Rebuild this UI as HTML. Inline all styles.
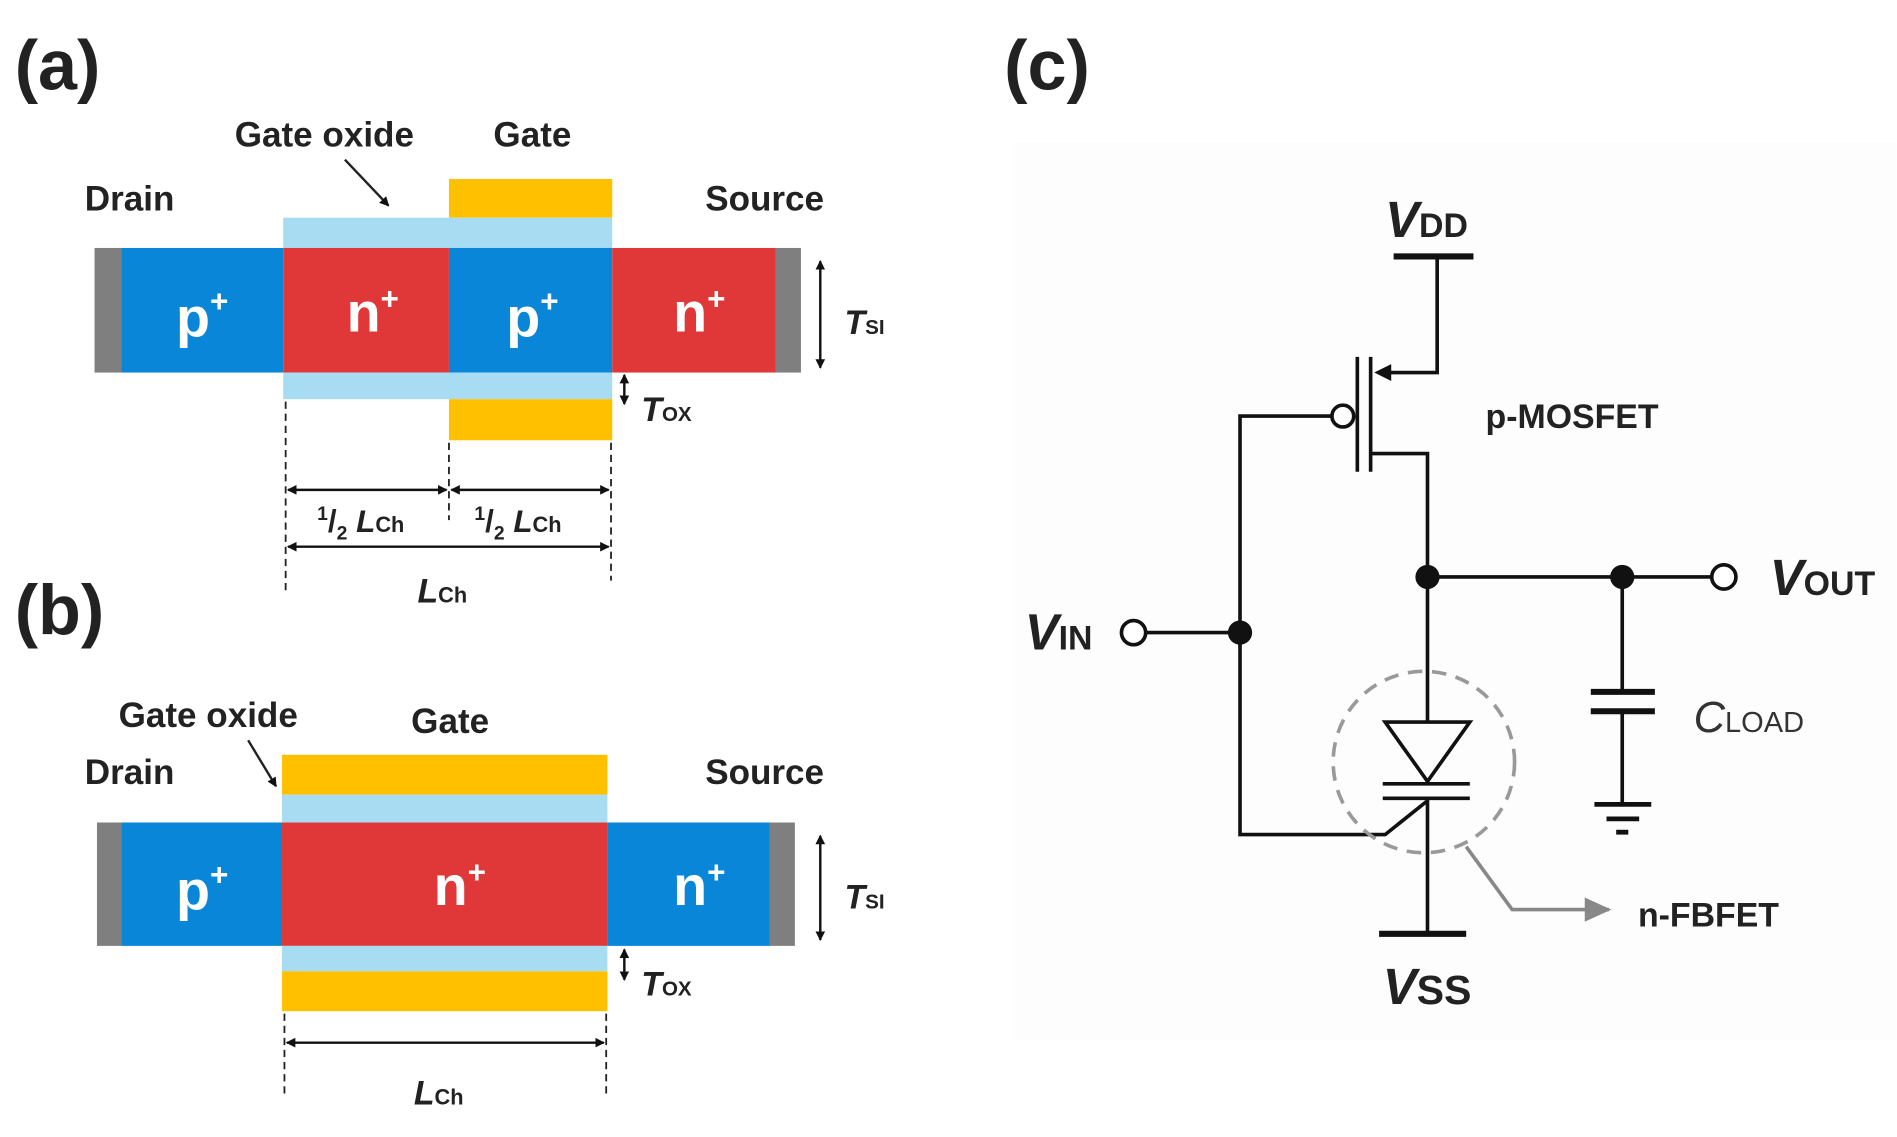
<!DOCTYPE html>
<html><head><meta charset="utf-8"><style>
html,body{margin:0;padding:0;background:#fff}
svg{display:block}
text{font-family:"Liberation Sans",Arial,sans-serif}
</style></head><body>
<svg width="1897" height="1137" viewBox="0 0 1568 940" xmlns="http://www.w3.org/2000/svg">
<defs>
<marker id="ah" markerWidth="8" markerHeight="8" refX="7" refY="4" orient="auto-start-reverse" markerUnits="userSpaceOnUse"><path d="M0,0 L8,4 L0,8 z" fill="#111"/></marker>
<marker id="gh" markerWidth="22" markerHeight="20" refX="20" refY="10" orient="auto" markerUnits="userSpaceOnUse"><path d="M0,0 L22,10 L0,20 z" fill="#888"/></marker>
</defs>
<rect width="1568" height="940" fill="#fff"/>
<!-- (a) -->
<text x="12" y="74" font-size="58" font-weight="bold" fill="#222">(a)</text>
<text x="268" y="121" font-size="29" font-weight="bold" text-anchor="middle" fill="#222">Gate oxide</text>
<text x="440" y="121" font-size="29" font-weight="bold" text-anchor="middle" fill="#222">Gate</text>
<text x="107" y="174" font-size="29" font-weight="bold" text-anchor="middle" fill="#222">Drain</text>
<text x="632" y="174" font-size="29" font-weight="bold" text-anchor="middle" fill="#222">Source</text>
<line x1="285" y1="132" x2="321" y2="170" stroke="#222" stroke-width="2" marker-end="url(#ah)"/>
<rect x="371" y="148" width="135" height="32" fill="#FFC000"/>
<rect x="234" y="180" width="272" height="25" fill="#A8DCF2"/>
<rect x="78" y="205" width="22" height="103" fill="#7f7f7f"/>
<rect x="100" y="205" width="134" height="103" fill="#0A86D8"/>
<rect x="234" y="205" width="137" height="103" fill="#E03838"/>
<rect x="371" y="205" width="135" height="103" fill="#0A86D8"/>
<rect x="506" y="205" width="135" height="103" fill="#E03838"/>
<rect x="641" y="205" width="21" height="103" fill="#7f7f7f"/>
<rect x="234" y="308" width="272" height="22" fill="#A8DCF2"/>
<rect x="371" y="330" width="135" height="34" fill="#FFC000"/>
<g fill="#fff" font-size="46" font-weight="bold" text-anchor="middle">
<text x="167" y="278">p<tspan font-size="26" dy="-20">+</tspan></text>
<text x="308" y="274">n<tspan font-size="26" dy="-18">+</tspan></text>
<text x="440" y="278">p<tspan font-size="26" dy="-20">+</tspan></text>
<text x="578" y="274">n<tspan font-size="26" dy="-18">+</tspan></text>
</g>
<line x1="678" y1="216" x2="678" y2="304" stroke="#111" stroke-width="2" marker-start="url(#ah)" marker-end="url(#ah)"/>
<text x="698" y="276" font-size="28" font-weight="bold" font-style="italic" fill="#222">T<tspan font-size="17" font-style="normal">SI</tspan></text>
<line x1="516" y1="310" x2="516" y2="334" stroke="#111" stroke-width="2" marker-start="url(#ah)" marker-end="url(#ah)"/>
<text x="530" y="348" font-size="28" font-weight="bold" font-style="italic" fill="#222">T<tspan font-size="17" font-style="normal">OX</tspan></text>
<g stroke="#222" stroke-width="1.5" stroke-dasharray="6,4">
<line x1="236" y1="332" x2="236" y2="490"/><line x1="371" y1="366" x2="371" y2="430"/><line x1="505" y1="366" x2="505" y2="480"/>
</g>
<g stroke="#111" stroke-width="2">
<line x1="238" y1="405" x2="369" y2="405" marker-start="url(#ah)" marker-end="url(#ah)"/>
<line x1="373" y1="405" x2="503" y2="405" marker-start="url(#ah)" marker-end="url(#ah)"/>
<line x1="238" y1="452" x2="503" y2="452" marker-start="url(#ah)" marker-end="url(#ah)"/>
</g>
<g font-weight="bold" fill="#222">
<text x="262" y="440" font-size="26"><tspan font-size="16" dy="-10">1</tspan><tspan dy="10">/</tspan><tspan font-size="16" dy="6">2</tspan><tspan dy="-6" font-style="italic"> L</tspan><tspan font-size="18">Ch</tspan></text>
<text x="392" y="440" font-size="26"><tspan font-size="16" dy="-10">1</tspan><tspan dy="10">/</tspan><tspan font-size="16" dy="6">2</tspan><tspan dy="-6" font-style="italic"> L</tspan><tspan font-size="18">Ch</tspan></text>
<text x="345" y="498" font-size="28" font-style="italic">L<tspan font-size="18" font-style="normal">Ch</tspan></text>
</g>
<!-- (b) -->
<text x="12" y="524" font-size="58" font-weight="bold" fill="#222">(b)</text>
<text x="172" y="601" font-size="29" font-weight="bold" text-anchor="middle" fill="#222">Gate oxide</text>
<text x="372" y="606" font-size="29" font-weight="bold" text-anchor="middle" fill="#222">Gate</text>
<text x="107" y="648" font-size="29" font-weight="bold" text-anchor="middle" fill="#222">Drain</text>
<text x="632" y="648" font-size="29" font-weight="bold" text-anchor="middle" fill="#222">Source</text>
<line x1="205" y1="612" x2="228" y2="650" stroke="#222" stroke-width="2" marker-end="url(#ah)"/>
<rect x="233" y="624" width="269" height="33" fill="#FFC000"/>
<rect x="233" y="657" width="269" height="23" fill="#A8DCF2"/>
<rect x="80" y="680" width="20" height="102" fill="#7f7f7f"/>
<rect x="100" y="680" width="133" height="102" fill="#0A86D8"/>
<rect x="233" y="680" width="269" height="102" fill="#E03838"/>
<rect x="502" y="680" width="134" height="102" fill="#0A86D8"/>
<rect x="636" y="680" width="21" height="102" fill="#7f7f7f"/>
<rect x="233" y="782" width="269" height="21" fill="#A8DCF2"/>
<rect x="233" y="803" width="269" height="33" fill="#FFC000"/>
<g fill="#fff" font-size="46" font-weight="bold" text-anchor="middle">
<text x="167" y="752">p<tspan font-size="26" dy="-20">+</tspan></text>
<text x="380" y="748">n<tspan font-size="26" dy="-18">+</tspan></text>
<text x="578" y="748">n<tspan font-size="26" dy="-18">+</tspan></text>
</g>
<line x1="678" y1="691" x2="678" y2="777" stroke="#111" stroke-width="2" marker-start="url(#ah)" marker-end="url(#ah)"/>
<text x="698" y="751" font-size="28" font-weight="bold" font-style="italic" fill="#222">T<tspan font-size="17" font-style="normal">SI</tspan></text>
<line x1="516" y1="785" x2="516" y2="810" stroke="#111" stroke-width="2" marker-start="url(#ah)" marker-end="url(#ah)"/>
<text x="530" y="823" font-size="28" font-weight="bold" font-style="italic" fill="#222">T<tspan font-size="17" font-style="normal">OX</tspan></text>
<g stroke="#222" stroke-width="1.5" stroke-dasharray="6,4">
<line x1="235" y1="838" x2="235" y2="908"/><line x1="501" y1="838" x2="501" y2="908"/>
</g>
<line x1="237" y1="862" x2="499" y2="862" stroke="#111" stroke-width="2" marker-start="url(#ah)" marker-end="url(#ah)"/>
<text x="342" y="913" font-size="28" font-weight="bold" font-style="italic" fill="#222">L<tspan font-size="18" font-style="normal">Ch</tspan></text>
<!-- (c) -->
<text x="830" y="74" font-size="58" font-weight="bold" fill="#222">(c)</text>
<rect x="836" y="118" width="732" height="742" fill="#fdfdfd"/>
<g stroke="#111" stroke-width="3" fill="none">
<line x1="1152" y1="212" x2="1218" y2="212" stroke-width="5"/>
<polyline points="1188,212 1188,308 1146,308"/>
<line x1="1122" y1="295" x2="1122" y2="390"/>
<line x1="1133" y1="295" x2="1133" y2="390"/>
<polyline points="1101,344 1025,344 1025,690 1145,690 1180,662"/>
<polyline points="1133,375 1180,375 1180,597"/>
<line x1="1180" y1="477" x2="1415" y2="477"/>
<polyline points="1341,477 1341,572"/>
<line x1="1315" y1="572" x2="1368" y2="572" stroke-width="5"/>
<line x1="1315" y1="588" x2="1368" y2="588" stroke-width="5"/>
<line x1="1341" y1="588" x2="1341" y2="665"/>
<line x1="1318" y1="665" x2="1365" y2="665" stroke-width="4"/>
<line x1="1328" y1="677" x2="1355" y2="677" stroke-width="4"/>
<line x1="1336" y1="688" x2="1346" y2="688" stroke-width="4"/>
<line x1="946" y1="523" x2="1025" y2="523"/>
<polygon points="1145,597 1215,597 1180,646"/>
<line x1="1143" y1="648" x2="1215" y2="648"/>
<line x1="1143" y1="660" x2="1215" y2="660"/>
<line x1="1180" y1="660" x2="1180" y2="772"/>
<line x1="1140" y1="772" x2="1212" y2="772" stroke-width="5"/>
</g>
<path d="M1136,308 L1150,301 L1150,315 z" fill="#111"/>
<circle cx="1110" cy="344" r="9" fill="#fff" stroke="#111" stroke-width="3"/>
<circle cx="1180" cy="477" r="10" fill="#111"/>
<circle cx="1341" cy="477" r="10" fill="#111"/>
<circle cx="1025" cy="523" r="10" fill="#111"/>
<circle cx="1425" cy="477" r="10" fill="#fff" stroke="#111" stroke-width="3"/>
<circle cx="937" cy="523" r="10" fill="#fff" stroke="#111" stroke-width="3"/>
<circle cx="1177" cy="630" r="75" fill="none" stroke="#999" stroke-width="3" stroke-dasharray="12,8"/>
<polyline points="1212,700 1250,752 1330,752" fill="none" stroke="#888" stroke-width="3" marker-end="url(#gh)"/>
<g fill="#222" font-weight="bold">
<text x="1145" y="196" font-size="42" font-style="italic">V<tspan font-size="28" font-style="normal">DD</tspan></text>
<text x="1228" y="354" font-size="28">p-MOSFET</text>
<text x="1463" y="492" font-size="42" font-style="italic">V<tspan font-size="28" font-style="normal">OUT</tspan></text>
<text x="847" y="537" font-size="42" font-style="italic">V<tspan font-size="28" font-style="normal">IN</tspan></text>
<text x="1400" y="605" font-size="36" font-style="italic" font-weight="normal" fill="#333">C<tspan font-size="24" font-style="normal">LOAD</tspan></text>
<text x="1354" y="766" font-size="28">n-FBFET</text>
<text x="1143" y="830" font-size="42" font-style="italic">V<tspan font-style="normal" font-size="34">SS</tspan></text>
</g>
</svg>
</body></html>
